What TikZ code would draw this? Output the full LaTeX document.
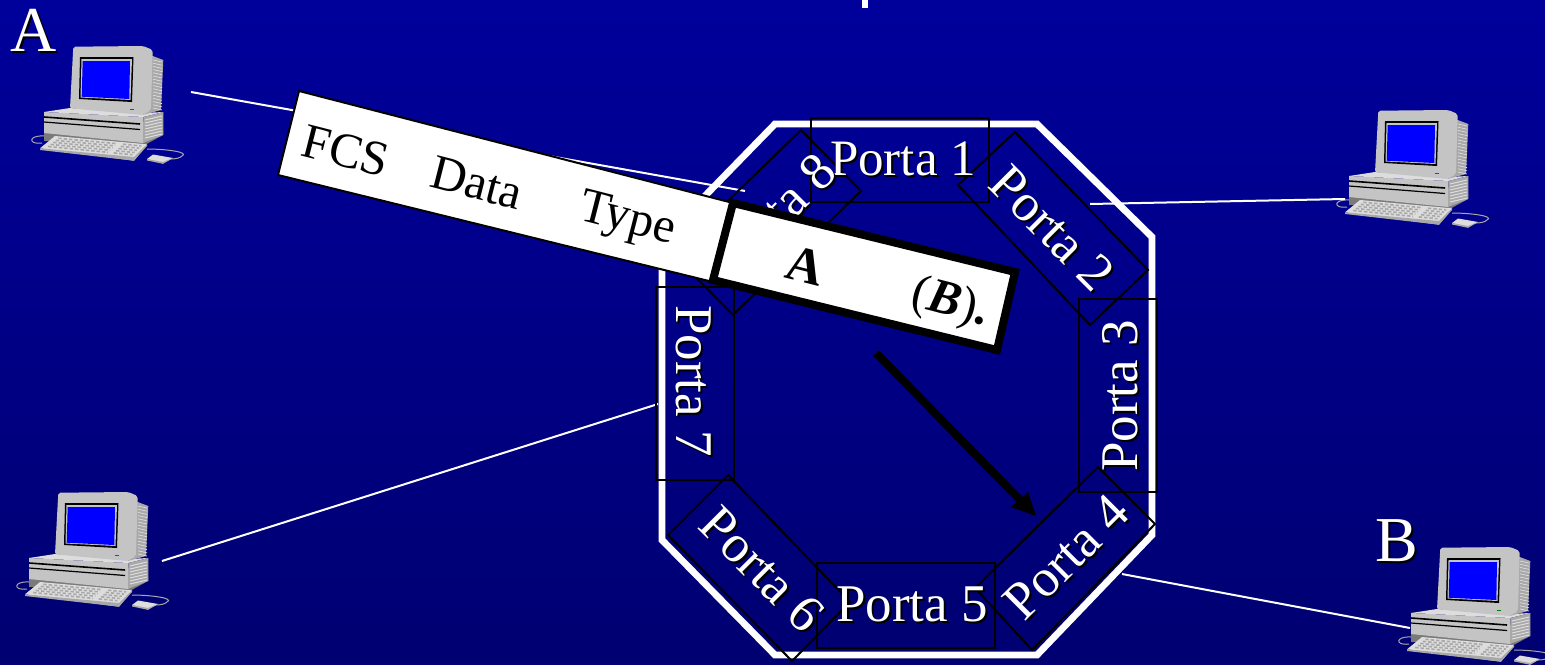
\documentclass[tikz,border=0pt]{standalone}
\usepackage{fontspec}
\setmainfont{Liberation Serif}
\definecolor{bgtop}{HTML}{0000B0}
\definecolor{bgbot}{HTML}{00005C}
\definecolor{pcgray}{HTML}{C4C4C4}
\definecolor{pclight}{HTML}{DDDDDD}
\definecolor{pcmid}{HTML}{A8A8A8}
\definecolor{pcdark}{HTML}{7A7A7A}
\pgfdeclareverticalshading{bgfade}{100bp}{color(0bp)=(bgbot); color(100bp)=(bgtop)}
\newcommand{\shlabel}[6]{%
  \node[font=#6,text=black,rotate=#4,inner sep=0pt] at (#2+2,#3+2) {#5};
  \node[font=#6,text=white,rotate=#4,inner sep=0pt] (#1) at (#2,#3) {#5};}
\tikzset{
  x=0.5pt,y=-0.5pt,
  portbox/.style={draw=black,line width=1pt},
  wire/.style={draw=white,line width=1pt},
  pkttext/.style={font=\fontsize{24.6}{25}\selectfont,text=black,rotate=-14.3,inner sep=0pt},
  computer/.pic={
    % cables
    \draw[pcmid,line width=.5pt] (44,136) .. controls (28,135) and (28,145) .. (42,143);
    \draw[pcmid,line width=.5pt] (147,149) .. controls (165,149) and (190,152) .. (182,156) .. controls (180,158) and (176,159) .. (170,159);
    % base shadow and base
    \fill[pcdark] (44,133) -- (44,141) -- (143,146) -- (163,135) -- (163,130) -- cycle;
    \fill[pcgray] (44,112) -- (143.3,117) -- (143,143) -- (44,133) -- cycle;
    \fill[pclight] (44,112) -- (70,108) -- (143,113) -- (163.3,112) -- (143.3,117) -- cycle;
    \fill[pcmid] (143.3,117) -- (163.3,112) -- (163.3,135) -- (143,143) -- cycle;
    \foreach \k in {0,...,6}{\draw[pclight,line width=.5pt] (145,{120+\k*3}) -- (162,{116+\k*3});}
    \draw[black,line width=.8pt] (44,117) -- (140,124);
    \draw[black,line width=.6pt] (44,122) -- (140,129.5);
    % monitor
    \fill[pcmid] (152.7,56) -- (163.3,60) -- (161,110) -- (142.7,115) -- (143.3,60) -- cycle;
    \foreach \k in {0,...,15}{\draw[pclight,line width=.35pt] (153,{60+\k*3.2}) -- (162,{62+\k*3.2});}
    \fill[pcgray,rounded corners=1pt] (73.3,46.7) -- (143.3,46) -- (152.7,50) -- (151,110) -- (142.7,115) -- (70,108.3) -- cycle;
    \fill[black] (80,57) -- (133.5,57) -- (132,102) -- (79,99) -- cycle;
    \fill[pcgray] (81.5,59) -- (132,59) -- (130.5,100) -- (80.5,97.5) -- cycle;
    \fill[blue] (82.7,61) -- (130,61) -- (129.3,99) -- (81.7,96.7) -- cycle;
    \fill[green!50!black] (130,108.5) rectangle (134,110);
    % keyboard
    \fill[pclight] (55,136) -- (147,144.3) -- (134,160.7) -- (40,148.3) -- cycle;
    \fill[pcmid] (40,148.3) -- (134,157) -- (147,144.3) -- (147,146) -- (134,160.7) -- (40,150) -- cycle;
    \foreach \t in {.15,.32,.49,.66,.83}{
      \pgfmathsetmacro{\ax}{55-15*\t}\pgfmathsetmacro{\ay}{136+12*\t}
      \pgfmathsetmacro{\bx}{147-13*\t}\pgfmathsetmacro{\by}{144.3+13*\t}
      \draw[pcmid,line width=.8pt,dash pattern=on 1.7pt off 1pt]
        ({\ax+.06*(\bx-\ax)},{\ay+.06*(\by-\ay)}) -- ({\ax+.7*(\bx-\ax)},{\ay+.7*(\by-\ay)});
      \draw[pcmid,line width=.8pt,dash pattern=on 1.7pt off 1pt]
        ({\ax+.76*(\bx-\ax)},{\ay+.76*(\by-\ay)}) -- ({\ax+.96*(\bx-\ax)},{\ay+.96*(\by-\ay)});
    }
    % mouse
    \fill[pclight] (147,159) -- (153,154.5) -- (173,158) -- (163,163.5) -- cycle;
    \fill[pcmid] (147,159) -- (163,162) -- (173,158) -- (163,163.8) -- (147,160.5) -- cycle;
  }
}
\begin{document}
\begin{tikzpicture}
\useasboundingbox (0,0) rectangle (1545,664);
\clip (0,0) rectangle (1545,664);
\shade[shading=bgfade] (0,0) rectangle (1545,664);
\fill[white] (862,0) rectangle (868,8);

% computers
\pic (pcA) at (0,0) {computer};
\pic (pcC) at (1305,64) {computer};
\pic (pcD) at (-15,446) {computer};
\pic (pcB) at (1367,501) {computer};

% wires
\coordinate (wAa) at (191,92);   \coordinate (wAb) at (745,191);
\coordinate (wCa) at (1090,204); \coordinate (wCb) at (1345,199);
\coordinate (wDa) at (162,561);  \coordinate (wDb) at (658,404);
\coordinate (wBa) at (1122,574); \coordinate (wBb) at (1410,628);
\draw[wire] (wAa) -- (wAb);
\draw[wire] (wCa) -- (wCb);
\draw[wire] (wDa) -- (wDb);
\draw[wire] (wBa) -- (wBb);

% switch outline
\draw[white,line width=3.4pt,line join=miter]
  (775,124) -- (1037,124) -- (1152,237) -- (1152,535) -- (1037,655)
  -- (775,655) -- (662,540) -- (662,240) -- cycle;

% ports
\draw[portbox] (811,118) rectangle (989,202);
\draw[portbox] (817,563) rectangle (995,648);
\draw[portbox] (656,287) rectangle (734,480);
\draw[portbox] (1079,299) rectangle (1157,492);
\draw[portbox] (958,185) -- (1015,132) -- (1148,270) -- (1090,325) -- cycle;
\draw[portbox] (975,588) -- (1098,467) -- (1155,524) -- (1032,650) -- cycle;
\draw[portbox] (668,535) -- (728,475) -- (850,602) -- (792,661) -- cycle;
\draw[portbox] (673,254) -- (801,130) -- (861,191) -- (733,315) -- cycle;

\def\pf{\fontsize{26.5}{27}\selectfont}
\shlabel{p1}{903}{159}{0}{Porta 1}{\fontsize{25.5}{26}\selectfont}
\shlabel{p2}{1052}{228}{-45}{Porta 2}{\pf}
\shlabel{p3}{1120}{396}{90}{Porta 3}{\pf}
\shlabel{p4}{1066}{557}{45}{Porta 4}{\pf}
\shlabel{p5}{912}{604}{0}{Porta 5}{\pf}
\shlabel{p6}{762}{569}{-45}{Porta 6}{\pf}
\shlabel{p7}{694}{381}{-90}{Porta 7}{\pf}
\shlabel{p8}{773}{216}{45}{Porta 8}{\pf}

\def\lf{\fontsize{32}{32}\selectfont}
\shlabel{lA}{34}{30}{0}{A}{\lf}
\shlabel{lB}{1397}{541}{0}{B}{\lf}

% frame
\fill[white,draw=black,line width=1pt] (299,91) -- (733,203) -- (713,282) -- (278,175) -- cycle;
\fill[white,draw=black,line width=4pt,line join=miter] (733,203) -- (1015,272) -- (997,350) -- (713,280) -- cycle;
\node[pkttext] (fcs) at (346,151) {FCS};
\node[pkttext] (data) at (477,183) {Data};
\node[pkttext] (type) at (627,221) {Type};
\node[pkttext,font=\fontsize{25.5}{26}\selectfont\bfseries] (dstA) at (805,266) {A};
\node[pkttext] (dstB) at (950,304) {(\textbf{\textit{B}})\textbf{.}};

% forwarding arrow
\coordinate (arrS) at (876,353);
\coordinate (arrE) at (1024,504);
\coordinate (arrT) at (1036,516);
\draw[black,line width=4pt] (arrS) -- (arrE);
\fill[black] (arrT) -- (1028,492) -- (1011,507) -- cycle;
\end{tikzpicture}
\end{document}
